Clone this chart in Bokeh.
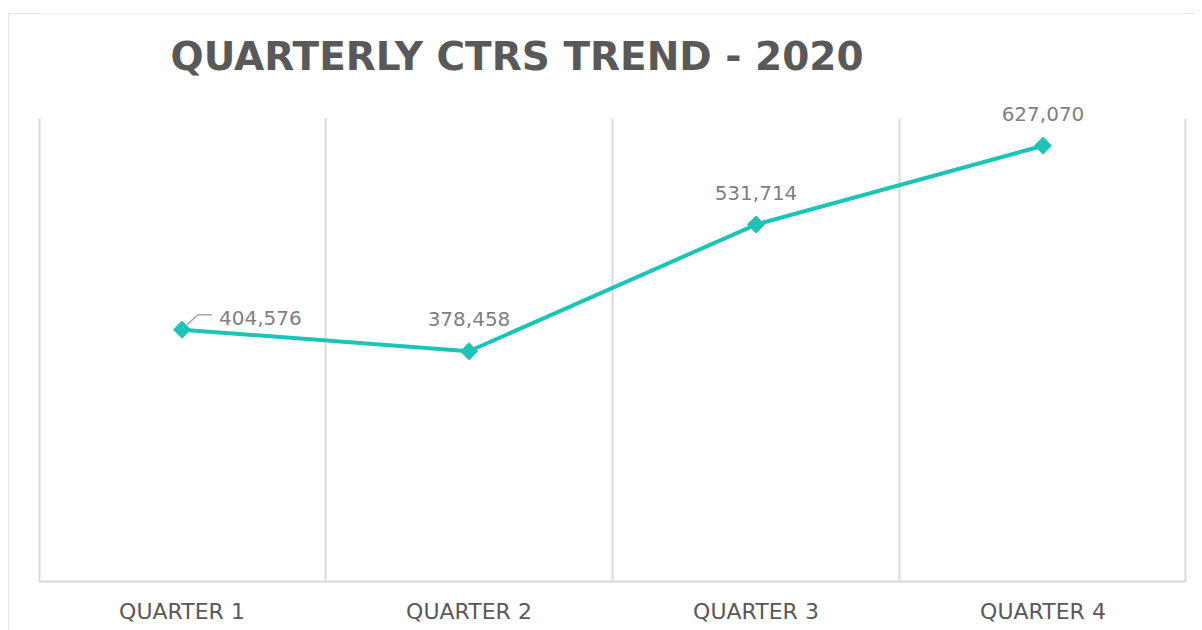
import math
from bokeh.plotting import figure
from bokeh.models import ColumnDataSource, FixedTicker, LabelSet, Label
from bokeh.embed import file_html
from bokeh.resources import INLINE
from bokeh.core.properties import value

# ---- data ----
quarters = ["QUARTER 1", "QUARTER 2", "QUARTER 3", "QUARTER 4"]
ctrs = [404576, 378458, 531714, 627070]
title_text = "QUARTERLY CTRS TREND - 2020"
y_min, y_max = 100000, 660000

# ---- derived ----
xs = [i + 1 for i in range(len(quarters))]
labels = [f"{v:,}" for v in ctrs]
label_align = ["left", "center", "center", "center"]
label_dx = [37, 0, 0, 0]
label_dy = [5, 25, 25, 25]

FONT = "DejaVu Sans"
LINE_COLOR = "#1BC4B6"
GRID = "#d9d9d9"
FW = 1148            # plot-area width in px
PLOT_H = 463         # plot-area (gridline) height in px
HEAD = 105           # header space above the plot area in px

units_per_px = (y_max - y_min) / PLOT_H
y_view_top = y_max + HEAD * units_per_px
px_x = len(quarters) / FW

p = figure(width=1186, height=617, title=None,
           x_range=(0.5, len(quarters) + 0.5), y_range=(y_min, y_view_top),
           output_backend="svg", toolbar_location=None, y_axis_location=None,
           min_border_left=30, min_border_right=8, min_border_top=0, min_border_bottom=49)
p.margin = (13, 0, 0, 8)
p.styles = {"outline": "2px solid #d9d9d9", "outline-offset": "-2px"}
p.outline_line_color = None
p.background_fill_color = "white"
p.border_fill_color = "white"

# vertical gridlines at category boundaries (only over the plot area)
p.xgrid.visible = False
p.ygrid.visible = False
bounds = [0.5 + i for i in range(len(quarters) + 1)]
widths = [4] + [2] * (len(quarters) - 1) + [4]
p.segment(x0=bounds, x1=bounds, y0=[y_min] * len(bounds), y1=[y_max] * len(bounds),
          line_color=GRID, line_width=widths)

ax = p.xaxis[0]
ax.ticker = FixedTicker(ticks=xs)
ax.major_label_overrides = {x: q for x, q in zip(xs, quarters)}
ax.major_tick_line_color = None
ax.minor_tick_line_color = None
ax.axis_line_color = GRID
ax.axis_line_width = 2
ax.major_label_standoff = 11
ax.major_label_text_font = FONT
ax.major_label_text_font_size = "22px"
ax.major_label_text_color = "#595959"

# title
p.add_layout(Label(x=0.5, y=y_view_top, x_offset=132, y_offset=-43,
                   text=title_text, text_font=FONT, text_font_size="39px",
                   text_font_style="bold", text_color="#595959",
                   text_align="left", text_baseline="alphabetic"))

src = ColumnDataSource(dict(x=xs, y=ctrs, label=labels, align=label_align,
                            dx=label_dx, dy=label_dy))

p.line("x", "y", source=src, line_color=LINE_COLOR, line_width=4)
p.scatter("x", "y", source=src, marker="square", size=12, angle=math.pi / 4,
          fill_color=LINE_COLOR, line_color=LINE_COLOR)

# leader line for first label
lx = [xs[0] + 5 * px_x, xs[0] + 16 * px_x, xs[0] + 30 * px_x]
ly = [ctrs[0] + 5 * units_per_px, ctrs[0] + 15 * units_per_px, ctrs[0] + 15 * units_per_px]
p.line(lx, ly, line_color="#a6a6a6", line_width=1.5)

p.add_layout(LabelSet(x="x", y="y", text="label", source=src,
                      x_offset="dx", y_offset="dy",
                      text_align="align", text_baseline="alphabetic",
                      text_font=value(FONT), text_font_size="20px",
                      text_color="#7f7f7f"))

open("out.html", "w").write(file_html(p, INLINE))
